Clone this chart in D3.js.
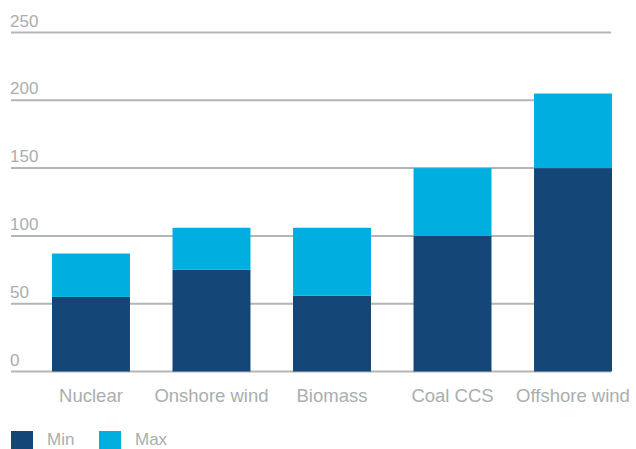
<!DOCTYPE html>
<html lang="en">
<head>
    <meta charset="UTF-8">
    <title>Cost range by technology</title>
    <style>
        body { margin: 0; background: #fff; }
        svg text { font-family: "Liberation Sans", Arial, sans-serif; fill: #a9aeae; }
        .grid line { stroke: #b3b6b6; stroke-width: 2px; }
    </style>
</head>
<body>
    <svg id="chart" width="636" height="449"></svg>
    <script src="https://d3js.org/d3.v7.min.js"></script>
    <script>
        // data
        const categories = ["Nuclear", "Onshore wind", "Biomass", "Coal CCS", "Offshore wind"];
        const minValues = [55, 75, 56, 100, 150];
        const maxValues = [87, 106, 106, 150, 205];
        const yTicks = [0, 50, 100, 150, 200, 250];
        const seriesNames = ["Min", "Max"];
        const seriesColors = ["#144677", "#00afe0"];

        const svg = d3.select("#chart");

        const x = d3.scaleBand()
            .domain(categories)
            .range([52, 612])
            .paddingInner(0.353)
            .paddingOuter(0);

        const y = d3.scaleLinear()
            .domain([0, 250])
            .range([371.5, 32.5]);

        // gridlines + labels sitting above them
        const grid = svg.append("g").attr("class", "grid");
        grid.selectAll("line")
            .data(yTicks)
            .enter().append("line")
            .attr("x1", 11)
            .attr("x2", 611)
            .attr("y1", d => y(d))
            .attr("y2", d => y(d));

        grid.selectAll("text")
            .data(yTicks)
            .enter().append("text")
            .attr("x", 10)
            .attr("y", d => y(d) - 6)
            .style("font-size", "17px")
            .text(d => d);

        // stacked bars: min at bottom, remainder up to max on top
        const rows = categories.map((c, i) => ({ cat: c, min: minValues[i], max: maxValues[i] }));

        const bars = svg.append("g");
        bars.selectAll("rect.min")
            .data(rows)
            .enter().append("rect")
            .attr("class", "min")
            .attr("x", d => x(d.cat))
            .attr("width", x.bandwidth())
            .attr("y", d => y(d.min))
            .attr("height", d => y(0) - y(d.min))
            .style("fill", seriesColors[0]);

        bars.selectAll("rect.max")
            .data(rows)
            .enter().append("rect")
            .attr("class", "max")
            .attr("x", d => x(d.cat))
            .attr("width", x.bandwidth())
            .attr("y", d => y(d.max))
            .attr("height", d => y(d.min) - y(d.max))
            .style("fill", seriesColors[1]);

        // category labels
        svg.append("g").selectAll("text")
            .data(categories)
            .enter().append("text")
            .attr("x", d => x(d) + x.bandwidth() / 2)
            .attr("y", 401.5)
            .attr("text-anchor", "middle")
            .style("font-size", "18.5px")
            .text(d => d);

        // legend
        const legend = svg.append("g");
        const legendX = [11, 99];
        seriesNames.forEach((name, i) => {
            legend.append("rect")
                .attr("x", legendX[i])
                .attr("y", 431)
                .attr("width", 22)
                .attr("height", 22)
                .style("fill", seriesColors[i]);
            legend.append("text")
                .attr("x", legendX[i] + 36)
                .attr("y", 445)
                .style("font-size", "17px")
                .text(name);
        });
    </script>
</body>
</html>
